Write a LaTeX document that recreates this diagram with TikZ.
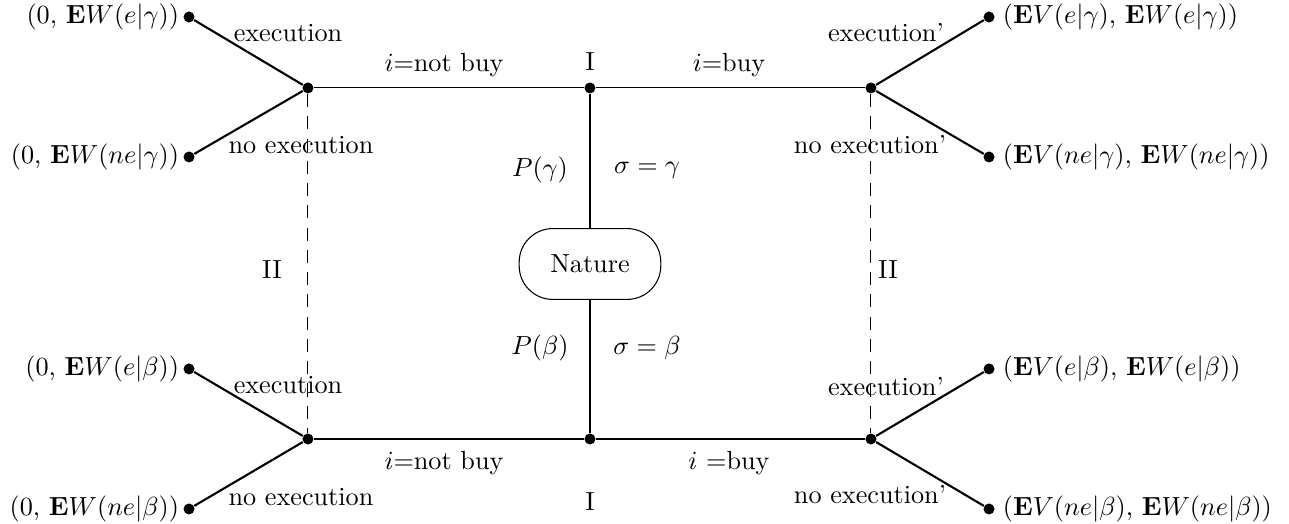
\documentclass[tikz,border=0pt]{standalone}
\usepackage{amsmath,amssymb}
\usepackage{tikz}
\newcommand{\bE}{\mathbf{E}}

\begin{document}
\begin{tikzpicture}[
  dot/.style={circle, fill, inner sep=0pt, minimum size=4.2pt},
  branch/.style={line width=0.8pt},
  infoset/.style={dash pattern=on 5pt off 3.5pt},
  chance/.style={draw, rounded corners=0.45cm, minimum width=1.9cm, minimum height=0.95cm},
  leftlab/.style={inner sep=1.3pt},
  rightlab/.style={inner sep=2.8pt}]
  \useasboundingbox (0,0) rectangle (17.295,7.03);
  % ---------------------------------------------------------------- nature and the decision nodes
  \node[chance] (nat) at (7.916,3.488) {Nature};
  \node[dot] (Ig) at (7.916,5.850) {};
  \node[dot] (Ib) at (7.916,1.140) {};
  \node[dot] (nbg) at (4.132,5.850) {};
  \node[dot] (nbb) at (4.132,1.140) {};
  \node[dot] (byg) at (11.686,5.850) {};
  \node[dot] (byb) at (11.686,1.140) {};
  % ---------------------------------------------------------------- end points with the payoffs
  \node[dot, label={[leftlab]left:{(0, $\bE W(e|\gamma)$)}}] (nbg-e) at (2.536,6.802) {};
  \node[dot, label={[leftlab]left:{(0, $\bE W(ne|\gamma)$)}}] (nbg-ne) at (2.536,4.924) {};
  \node[dot, label={[leftlab]left:{(0, $\bE W(e|\beta)$)}}] (nbb-e) at (2.536,2.080) {};
  \node[dot, label={[leftlab]left:{(0, $\bE W(ne|\beta)$)}}] (nbb-ne) at (2.536,0.201) {};
  \node[dot, label={[rightlab]right:{($\bE V(e|\gamma)$, $\bE W(e|\gamma)$)}}] (byg-e) at (13.270,6.802) {};
  \node[dot, label={[rightlab]right:{($\bE V(ne|\gamma)$, $\bE W(ne|\gamma)$)}}] (byg-ne) at (13.270,4.924) {};
  \node[dot, label={[rightlab]right:{($\bE V(e|\beta)$, $\bE W(e|\beta)$)}}] (byb-e) at (13.270,2.080) {};
  \node[dot, label={[rightlab]right:{($\bE V(ne|\beta)$, $\bE W(ne|\beta)$)}}] (byb-ne) at (13.270,0.201) {};
  % ---------------------------------------------------------------- the moves
  \draw (nbg) -- (Ig) -- (byg);
  \draw (nbb) -- (Ib) -- (byb);
  \draw (Ig) -- (nat) -- (Ib);
  \draw[branch] (nbg-e) -- (nbg) -- (nbg-ne);
  \draw[branch] (nbb-e) -- (nbb) -- (nbb-ne);
  \draw[branch] (byg-e) -- (byg) -- (byg-ne);
  \draw[branch] (byb-e) -- (byb) -- (byb-ne);
  % information sets of II
  \draw[infoset] (nbg) -- (nbb);
  \draw[infoset] (byg) -- (byb);
  % ---------------------------------------------------------------- labels
  \node (t-I) at (7.916,6.199) {I};
  \node (b-I) at (7.916,0.295) {I};
  \node (l-II) at (3.649,3.408) {II};
  \node (r-II) at (11.914,3.408) {II};
  \node (t-nb) at (5.957,6.158) {$i$=not buy};
  \node (b-nb) at (5.957,0.818) {$i$=not buy};
  \node (t-by) at (9.781,6.158) {$i$=buy};
  \node (b-by) at (9.781,0.818) {$i$ =buy};
  \node (p-g) at (7.245,4.750) {$P(\gamma)$};
  \node (s-g) at (8.681,4.750) {$\sigma=\gamma$};
  \node (p-b) at (7.245,2.361) {$P(\beta)$};
  \node (s-b) at (8.681,2.361) {$\sigma=\beta$};
  \node (e1) at (3.864,6.588) {execution};
  \node (ne1) at (4.038,5.085) {no execution};
  \node (e2) at (3.864,1.865) {execution};
  \node (ne2) at (4.038,0.362) {no execution};
  \node (e3) at (11.887,6.588) {execution'};
  \node (ne3) at (11.673,5.085) {no execution'};
  \node (e4) at (11.887,1.838) {execution'};
  \node (ne4) at (11.673,0.389) {no execution'};
\end{tikzpicture}
\end{document}
